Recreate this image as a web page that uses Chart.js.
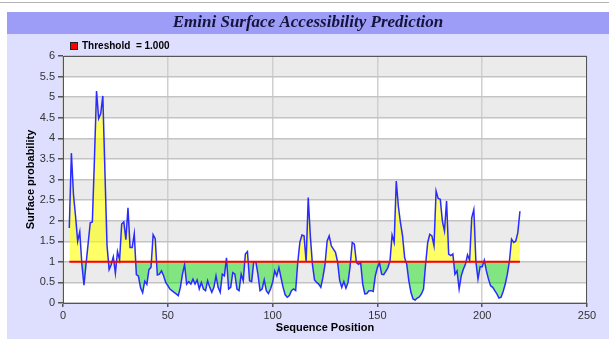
<!DOCTYPE html>
<html>
<head>
<meta charset="utf-8">
<script src="https://cdn.jsdelivr.net/npm/chart.js@4.4.1/dist/chart.umd.min.js"></script>
<style>
  html, body { margin: 0; padding: 0; background: #fff; }
  #wrap { position: absolute; left: 0; top: 0; width: 609px; height: 339px; }
</style>
</head>
<body>
<div id="wrap"><canvas id="chart" width="609" height="339"></canvas></div>
<script>
const TITLE = 'Emini Surface Accessibility Prediction'
const THRESHOLD = 1.0
const FIRST_POSITION = 3

// surface probability per residue, starting at position 3
const SURFACE = [
  1.82, 3.64, 2.63, 2.10, 1.50, 1.73, 0.94, 0.43, 0.95, 1.45,
  1.95, 1.97, 3.50, 5.15, 4.48, 4.60, 5.03, 3.20, 1.40, 0.81,
  0.93, 1.12, 0.72, 1.25, 1.05, 1.92, 1.97, 1.54, 2.31, 1.35,
  1.35, 1.68, 0.69, 0.65, 0.37, 0.25, 0.53, 0.45, 0.81, 0.87,
  1.66, 1.56, 0.68, 0.70, 0.78, 0.66, 0.50, 0.42, 0.34, 0.30,
  0.26, 0.22, 0.18, 0.38, 0.70, 0.93, 0.46, 0.52, 0.46, 0.58,
  0.46, 0.56, 0.34, 0.50, 0.34, 0.30, 0.54, 0.38, 0.26, 0.38,
  0.66, 0.38, 0.26, 0.70, 0.66, 1.10, 0.34, 0.38, 0.74, 0.70,
  0.34, 0.30, 0.70, 0.54, 1.19, 1.25, 0.54, 0.52, 1.00, 1.00,
  0.70, 0.30, 0.34, 0.56, 0.30, 0.23, 0.34, 0.50, 0.78, 0.66,
  0.86, 0.62, 0.38, 0.20, 0.14, 0.18, 0.30, 0.34, 0.30, 0.98,
  1.47, 1.65, 1.63, 1.00, 2.56, 1.63, 0.94, 0.56, 0.50, 0.46,
  0.38, 0.62, 0.93, 1.50, 1.63, 1.39, 1.31, 1.23, 1.00, 0.55,
  0.38, 0.52, 0.36, 0.50, 0.90, 1.47, 1.43, 0.98, 0.94, 0.98,
  0.46, 0.22, 0.23, 0.30, 0.30, 0.28, 0.66, 0.86, 0.98, 0.70,
  0.69, 0.77, 0.86, 1.02, 1.65, 1.47, 2.96, 2.35, 1.95, 1.63,
  1.10, 0.94, 0.54, 0.26, 0.10, 0.07, 0.12, 0.15, 0.22, 0.34,
  0.94, 1.47, 1.67, 1.63, 1.39, 2.72, 2.54, 2.52, 1.99, 1.75,
  2.48, 1.19, 1.15, 1.19, 0.70, 0.78, 0.34, 0.66, 0.82, 0.94,
  1.17, 1.04, 2.07, 2.27, 1.00, 0.58, 0.88, 0.88, 1.04, 0.78,
  0.58, 0.42, 0.38, 0.30, 0.22, 0.12, 0.14, 0.28, 0.46, 0.70,
  1.02, 1.55, 1.47, 1.50, 1.71, 2.23
]

const surfacePoints = SURFACE.map((v, i) => ({ x: FIRST_POSITION + i, y: v }))
const lastPosition = FIRST_POSITION + SURFACE.length - 1
const thresholdPoints = [{ x: FIRST_POSITION, y: THRESHOLD }, { x: lastPosition, y: THRESHOLD }]

const backdropPlugin = {
  id: 'backdrop',
  beforeDraw: (chart) => {
    const { ctx, chartArea: a, scales: { y } } = chart
    ctx.save()
    // page strip + panel
    ctx.fillStyle = '#ffffff'
    ctx.fillRect(0, 0, chart.width, chart.height)
    ctx.fillStyle = '#b4b4b4'
    ctx.fillRect(0, 2, chart.width, 1)
    ctx.fillStyle = '#dedeff'
    ctx.fillRect(7, 12, chart.width - 7, chart.height - 12)
    ctx.fillStyle = '#9d9df7'
    ctx.fillRect(7, 12, chart.width - 7, 22)
    // plot background with alternating bands
    ctx.fillStyle = '#ffffff'
    ctx.fillRect(a.left, a.top, a.right - a.left, a.bottom - a.top)
    ctx.fillStyle = '#ebebeb'
    for (let v = 0.5; v < 6; v += 1) {
      const top = y.getPixelForValue(v + 0.5)
      const bottom = y.getPixelForValue(v)
      ctx.fillRect(a.left, top, a.right - a.left, bottom - top)
    }
    ctx.restore()
  },
  afterDraw: (chart) => {
    const { ctx, chartArea: a } = chart
    ctx.save()
    ctx.strokeStyle = '#555555'
    ctx.lineWidth = 1
    ctx.strokeRect(a.left + 0.5, a.top + 0.5, a.right - a.left - 1, a.bottom - a.top)
    // title
    ctx.fillStyle = '#14143c'
    ctx.font = 'italic bold 17px "Liberation Serif", "DejaVu Serif", serif'
    ctx.textAlign = 'center'
    ctx.textBaseline = 'middle'
    ctx.fillText(TITLE, 308, 23)
    // legend
    ctx.fillStyle = '#ff0000'
    ctx.fillRect(70, 42, 8, 8)
    ctx.strokeStyle = '#222222'
    ctx.strokeRect(70.5, 42.5, 7, 7)
    ctx.fillStyle = '#000000'
    ctx.font = 'bold 10px "Liberation Sans", Arial, sans-serif'
    ctx.textAlign = 'left'
    ctx.fillText('Threshold  = ' + THRESHOLD.toFixed(3), 82, 46.5)
    ctx.restore()
  }
}

const tickFont = { family: '"Liberation Sans", Arial, sans-serif', size: 11 }
const titleFont = { family: '"Liberation Sans", Arial, sans-serif', size: 11, weight: 'bold' }

const CONFIG = {
  type: 'line',
  data: {
    datasets: [
      {
        label: 'Surface probability',
        data: surfacePoints,
        borderColor: '#2b2bff',
        borderWidth: 1.5,
        pointRadius: 0,
        tension: 0,
        order: 1,
        fill: {
          target: { value: THRESHOLD },
          above: 'rgba(255, 255, 0, 0.6)',
          below: 'rgba(0, 225, 0, 0.45)'
        }
      },
      {
        label: 'Threshold',
        data: thresholdPoints,
        borderColor: '#ff0000',
        borderWidth: 2,
        pointRadius: 0,
        fill: false,
        order: 0
      }
    ]
  },
  options: {
    responsive: false,
    animation: false,
    layout: { padding: { left: 7, top: 56, right: 22, bottom: 0 } },
    plugins: {
      legend: { display: false },
      tooltip: { enabled: false }
    },
    scales: {
      x: {
        type: 'linear',
        min: 0,
        max: 250,
        afterFit: (scale) => { scale.height = 36 },
        ticks: { stepSize: 50, color: '#333333', font: tickFont, padding: 2, maxRotation: 0 },
        grid: { color: '#cfcfcf', lineWidth: 1.5, tickColor: '#555555', tickLength: 4 },
        border: { color: '#555555', width: 1 },
        title: { display: true, text: 'Sequence Position', color: '#000000', font: titleFont, padding: { top: 0, bottom: 4 } }
      },
      y: {
        min: 0,
        max: 6,
        afterFit: (scale) => { scale.width = 56 },
        ticks: { stepSize: 0.5, color: '#333333', font: tickFont, padding: 3, callback: (value) => String(value) },
        grid: { color: '#c4c4c4', lineWidth: 1.5, tickColor: '#555555', tickLength: 5 },
        border: { color: '#555555', width: 1 },
        title: { display: true, text: 'Surface probability', color: '#000000', font: titleFont, padding: { top: 17, bottom: 0 } }
      }
    }
  },
  plugins: [backdropPlugin]
}

// eslint-disable-next-line no-unused-vars
const chart = new Chart(document.getElementById('chart'), CONFIG)
</script>
</body>
</html>
